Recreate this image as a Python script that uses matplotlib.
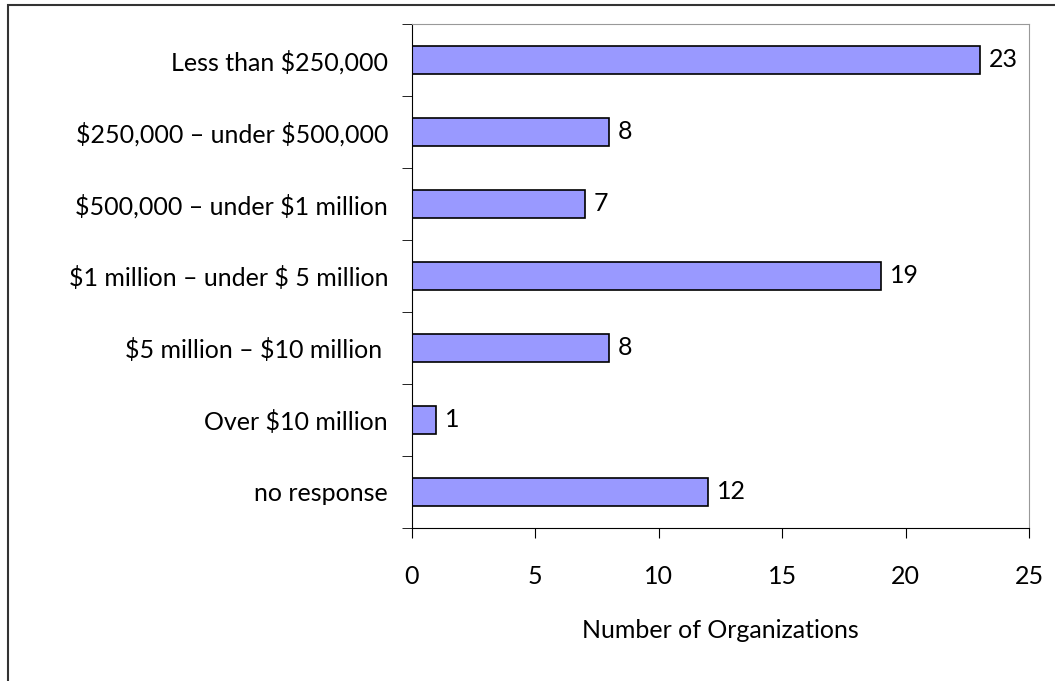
import matplotlib.pyplot as plt
from matplotlib.patches import Rectangle

categories = ['Less than $250,000', '$250,000 \u2013 under $500,000', '$500,000 \u2013 under $1 million',
              '$1 million \u2013 under $ 5 million', '$5 million \u2013 $10 million ', 'Over $10 million',
              'no response']
counts = [23, 8, 7, 19, 8, 1, 12]
xticks = [0, 5, 10, 15, 20, 25]

plt.rcParams['font.family'] = ['Lato', 'DejaVu Sans']
plt.rcParams['text.parse_math'] = False

fig = plt.figure(figsize=(10.55, 6.81), dpi=100)
ax = fig.add_axes([0.3902, 0.2247, 0.5855, 0.7401])

pos = list(range(len(categories)))
ax.barh(pos, counts, height=0.38, color='#9999FF', edgecolor='black', linewidth=1.2)
for p, v in zip(pos, counts):
    ax.text(v + 0.36, p, str(v), va='center', ha='left', fontsize=18)

ax.set_ylim(len(categories) - 0.5, -0.5)
ax.set_xlim(0, 25)
ax.set_xticks(xticks)
ax.set_yticks(pos)
ax.set_yticklabels(categories, fontsize=18)
ax.tick_params(axis='y', length=0, pad=17)
ax.set_yticks([i - 0.5 for i in range(len(categories) + 1)], minor=True)
ax.tick_params(axis='y', which='minor', length=7, direction='out')
ax.tick_params(axis='x', length=7, direction='out', labelsize=18, pad=20)
ax.set_xlabel('Number of Organizations', fontsize=18, labelpad=22)

for s in ['top', 'right']:
    ax.spines[s].set_color('#999999')
for s in ['left', 'bottom']:
    ax.spines[s].set_color('black')

fig.add_artist(Rectangle((8 / 1055, -0.1), 2, 1.1 - 5 / 681, transform=fig.transFigure,
                         fill=False, edgecolor='#333333', linewidth=1.5, clip_on=False))

fig.savefig('out.png', dpi=100)
